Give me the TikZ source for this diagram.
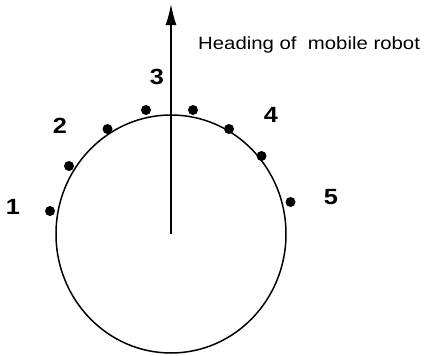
\documentclass[tikz,border=0pt]{standalone}
\usepackage{fontspec}
\setmainfont{Liberation Sans}
\newfontfamily\widesans[FakeStretch=1.15]{Liberation Sans}
\usetikzlibrary{arrows.meta}
\begin{document}
\begin{tikzpicture}[x=1pt,y=-1pt,
  dotmark/.style={circle,fill=black,inner sep=0pt,minimum size=10pt},
  numlabel/.style={font=\widesans\fontsize{22}{22}\selectfont\bfseries,inner sep=0pt},
  headlabel/.style={font=\widesans\fontsize{17.7}{18}\selectfont,inner sep=0pt,anchor=base west}]
\useasboundingbox (0,0) rectangle (424,356);
\coordinate (c) at (171,234);
\coordinate (tip) at (171,4);
\draw[line width=1.5pt] (c) ellipse [x radius=115, y radius=119];
\draw[line width=1.5pt,-{Latex[length=21pt,width=11pt]}] (c) -- (tip);
\node[dotmark] (d1) at (50,211) {};
\node[dotmark] (d2) at (69,166) {};
\node[dotmark] (d3) at (107.5,129) {};
\node[dotmark] (d4) at (146,110) {};
\node[dotmark] (d5) at (193,110) {};
\node[dotmark] (d6) at (229,129) {};
\node[dotmark] (d7) at (261.5,156) {};
\node[dotmark] (d8) at (290.5,202) {};
\node[numlabel] (l1) at (13,207) {1};
\node[numlabel] (l2) at (60,125.5) {2};
\node[numlabel] (l3) at (157,77) {3};
\node[numlabel] (l4) at (271,115) {4};
\node[numlabel] (l5) at (331,197) {5};
\node[headlabel] (head) at (198,49) {Heading of\ \ mobile robot};
\end{tikzpicture}
\end{document}
